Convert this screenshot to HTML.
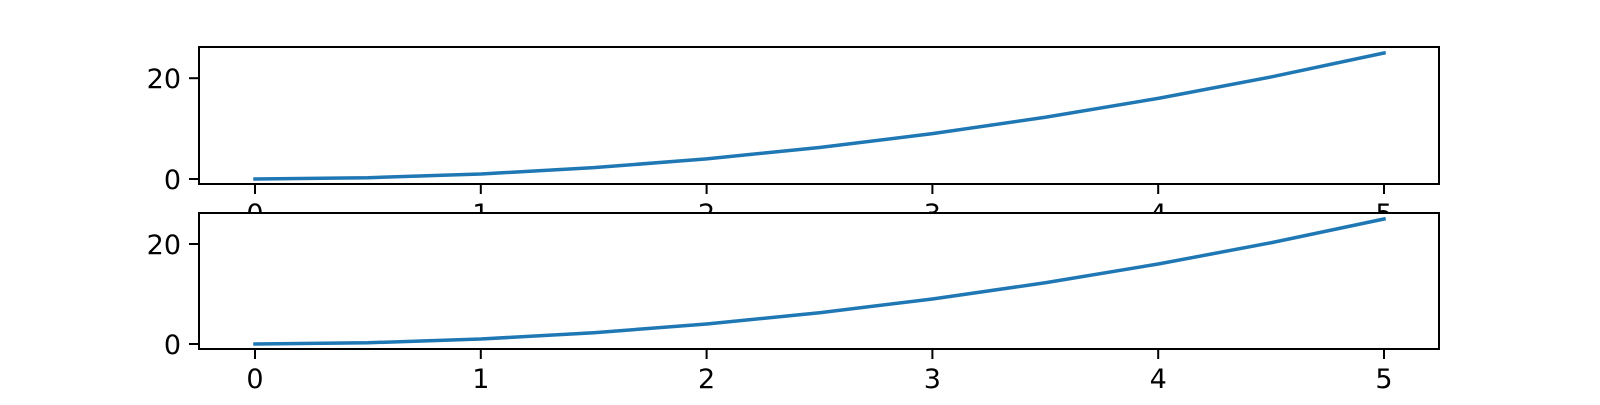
<!DOCTYPE html>
<html><head><meta charset="utf-8"><style>
body{margin:0;background:#fff}
svg text{font-family:"DejaVu Sans","Liberation Sans",sans-serif;font-size:27px;fill:#000}
</style></head><body>
<svg id="chart" width="1600" height="400" xmlns="http://www.w3.org/2000/svg"></svg>
<script>
const xValues=[0,0.5,1,1.5,2,2.5,3,3.5,4,4.5,5];
const yValues=[0,0.25,1,2.25,4,6.25,9,12.25,16,20.25,25];
const xTicks=[0,1,2,3,4,5];
const yTicks=[0,20];
const NS="http://www.w3.org/2000/svg";
const svg=document.getElementById('chart');
function el(t,a,p){const e=document.createElementNS(NS,t);for(const k in a)e.setAttribute(k,a[k]);(p||svg).appendChild(e);return e;}
const L=199,R=1439;
const xs=v=>255+(v-0)*(1384-255)/5;
const panels=[{top:47,bot:184,name:'top'},{top:213,bot:349,name:'bottom'}];
panels.forEach((p,i)=>{
  const ys=v=>(p.bot-5)-v*((p.bot-5)-(p.top+6))/25;
  const g=el('g',{});
  
  
  const bg=el('rect',{x:L,y:p.top,width:R-L,height:p.bot-p.top,fill:'#fff',stroke:'none'},g);
  
  
  const pts=xValues.map((x,j)=>xs(x)+','+ys(yValues[j])).join(' ');
  const line=el('polyline',{points:pts,fill:'none',stroke:'#1f77b4','stroke-width':3.5,'stroke-linecap':'square'},g);
  
  
  const fr=el('rect',{x:L,y:p.top,width:R-L,height:p.bot-p.top,fill:'none',stroke:'#000','stroke-width':2},g);
  
  
  xTicks.forEach(t=>{
    el('line',{x1:xs(t),x2:xs(t),y1:p.bot,y2:p.bot+10,stroke:'#000','stroke-width':2},g);
    const tx=el('text',{x:xs(t),y:p.bot+39,'text-anchor':'middle'},g);
    tx.textContent=t;
    
    
  });
  yTicks.forEach(t=>{
    el('line',{x1:L-10,x2:L,y1:ys(t),y2:ys(t),stroke:'#000','stroke-width':2},g);
    const tx=el('text',{x:L-18,y:ys(t)+10,'text-anchor':'end'},g);
    tx.textContent=t;
    
    
  });
});
</script>
</body></html>
